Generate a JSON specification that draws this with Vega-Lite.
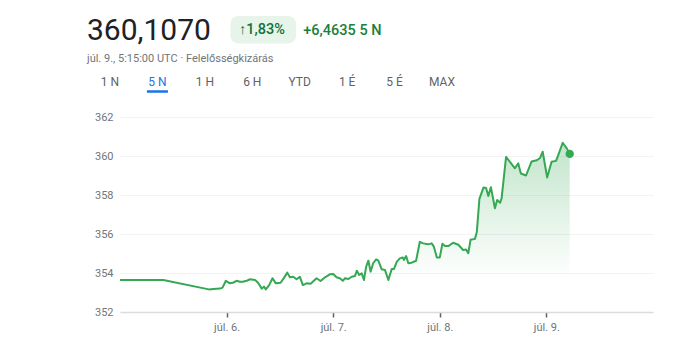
{
  "$schema": "https://vega.github.io/schema/vega-lite/v6.json",
  "width": 533,
  "height": 195,
  "autosize": {"type": "none"},
  "padding": {"left": 120, "top": 117, "right": 37, "bottom": 32},
  "background": "white",
  "config": {"view": {"stroke": null}, "font": "Roboto"},
  "datasets": {
    "prices": [
      {"t": "2024-07-05T00:00:00Z", "v": 353.64},
      {"t": "2024-07-05T09:45:00Z", "v": 353.64},
      {"t": "2024-07-05T20:00:00Z", "v": 353.16},
      {"t": "2024-07-05T21:00:00Z", "v": 353.18},
      {"t": "2024-07-05T22:30:00Z", "v": 353.2},
      {"t": "2024-07-05T23:05:00Z", "v": 353.25},
      {"t": "2024-07-05T23:50:00Z", "v": 353.6},
      {"t": "2024-07-06T00:45:00Z", "v": 353.47},
      {"t": "2024-07-06T01:25:00Z", "v": 353.5},
      {"t": "2024-07-06T02:15:00Z", "v": 353.6},
      {"t": "2024-07-06T03:00:00Z", "v": 353.55},
      {"t": "2024-07-06T03:40:00Z", "v": 353.55},
      {"t": "2024-07-06T04:30:00Z", "v": 353.6},
      {"t": "2024-07-06T05:15:00Z", "v": 353.68},
      {"t": "2024-07-06T06:25:00Z", "v": 353.64},
      {"t": "2024-07-06T07:05:00Z", "v": 353.5},
      {"t": "2024-07-06T07:55:00Z", "v": 353.2},
      {"t": "2024-07-06T08:25:00Z", "v": 353.3},
      {"t": "2024-07-06T08:50:00Z", "v": 353.16},
      {"t": "2024-07-06T09:35:00Z", "v": 353.38},
      {"t": "2024-07-06T10:20:00Z", "v": 353.73},
      {"t": "2024-07-06T11:05:00Z", "v": 353.47},
      {"t": "2024-07-06T12:10:00Z", "v": 353.5},
      {"t": "2024-07-06T12:55:00Z", "v": 353.75},
      {"t": "2024-07-06T13:40:00Z", "v": 354.02},
      {"t": "2024-07-06T14:15:00Z", "v": 353.78},
      {"t": "2024-07-06T15:00:00Z", "v": 353.81},
      {"t": "2024-07-06T15:45:00Z", "v": 353.68},
      {"t": "2024-07-06T16:30:00Z", "v": 353.8},
      {"t": "2024-07-06T17:10:00Z", "v": 353.38},
      {"t": "2024-07-06T18:00:00Z", "v": 353.47},
      {"t": "2024-07-06T18:55:00Z", "v": 353.45},
      {"t": "2024-07-06T20:15:00Z", "v": 353.73},
      {"t": "2024-07-06T21:10:00Z", "v": 353.59},
      {"t": "2024-07-06T22:10:00Z", "v": 353.78},
      {"t": "2024-07-06T23:15:00Z", "v": 353.93},
      {"t": "2024-07-07T00:00:00Z", "v": 353.95},
      {"t": "2024-07-07T00:45:00Z", "v": 353.78},
      {"t": "2024-07-07T01:30:00Z", "v": 353.73},
      {"t": "2024-07-07T02:10:00Z", "v": 353.6},
      {"t": "2024-07-07T02:40:00Z", "v": 353.73},
      {"t": "2024-07-07T03:25:00Z", "v": 353.69},
      {"t": "2024-07-07T04:10:00Z", "v": 353.81},
      {"t": "2024-07-07T04:55:00Z", "v": 353.85},
      {"t": "2024-07-07T05:20:00Z", "v": 354.12},
      {"t": "2024-07-07T05:50:00Z", "v": 353.9},
      {"t": "2024-07-07T06:25:00Z", "v": 353.98},
      {"t": "2024-07-07T06:55:00Z", "v": 353.64},
      {"t": "2024-07-07T07:25:00Z", "v": 354.32},
      {"t": "2024-07-07T07:55:00Z", "v": 354.63},
      {"t": "2024-07-07T08:25:00Z", "v": 354.07},
      {"t": "2024-07-07T09:00:00Z", "v": 354.5},
      {"t": "2024-07-07T09:40:00Z", "v": 354.7},
      {"t": "2024-07-07T10:10:00Z", "v": 354.63},
      {"t": "2024-07-07T10:55:00Z", "v": 354.19},
      {"t": "2024-07-07T11:40:00Z", "v": 354.15},
      {"t": "2024-07-07T12:25:00Z", "v": 353.64},
      {"t": "2024-07-07T13:10:00Z", "v": 354.2},
      {"t": "2024-07-07T13:40:00Z", "v": 354.2},
      {"t": "2024-07-07T14:20:00Z", "v": 354.58},
      {"t": "2024-07-07T15:00:00Z", "v": 354.75},
      {"t": "2024-07-07T15:40:00Z", "v": 354.8},
      {"t": "2024-07-07T15:55:00Z", "v": 354.67},
      {"t": "2024-07-07T16:25:00Z", "v": 354.87},
      {"t": "2024-07-07T16:55:00Z", "v": 354.5},
      {"t": "2024-07-07T17:40:00Z", "v": 354.53},
      {"t": "2024-07-07T18:40:00Z", "v": 354.63},
      {"t": "2024-07-07T19:30:00Z", "v": 355.6},
      {"t": "2024-07-07T20:15:00Z", "v": 355.52},
      {"t": "2024-07-07T21:25:00Z", "v": 355.47},
      {"t": "2024-07-07T22:10:00Z", "v": 355.52},
      {"t": "2024-07-07T22:40:00Z", "v": 355.35},
      {"t": "2024-07-07T23:20:00Z", "v": 354.8},
      {"t": "2024-07-08T00:00:00Z", "v": 354.8},
      {"t": "2024-07-08T00:35:00Z", "v": 355.5},
      {"t": "2024-07-08T01:10:00Z", "v": 355.38},
      {"t": "2024-07-08T01:55:00Z", "v": 355.38},
      {"t": "2024-07-08T03:00:00Z", "v": 355.55},
      {"t": "2024-07-08T04:10:00Z", "v": 355.45},
      {"t": "2024-07-08T05:15:00Z", "v": 355.18},
      {"t": "2024-07-08T05:55:00Z", "v": 355.2},
      {"t": "2024-07-08T06:25:00Z", "v": 355.02},
      {"t": "2024-07-08T06:55:00Z", "v": 355.7},
      {"t": "2024-07-08T07:55:00Z", "v": 355.75},
      {"t": "2024-07-08T08:20:00Z", "v": 356.1},
      {"t": "2024-07-08T08:55:00Z", "v": 357.8},
      {"t": "2024-07-08T09:50:00Z", "v": 358.38},
      {"t": "2024-07-08T10:25:00Z", "v": 358.36},
      {"t": "2024-07-08T10:55:00Z", "v": 357.95},
      {"t": "2024-07-08T11:30:00Z", "v": 358.4},
      {"t": "2024-07-08T12:25:00Z", "v": 357.32},
      {"t": "2024-07-08T12:55:00Z", "v": 357.74},
      {"t": "2024-07-08T13:35:00Z", "v": 357.6},
      {"t": "2024-07-08T13:55:00Z", "v": 357.83},
      {"t": "2024-07-08T14:55:00Z", "v": 359.95},
      {"t": "2024-07-08T16:55:00Z", "v": 359.37},
      {"t": "2024-07-08T17:40:00Z", "v": 359.62},
      {"t": "2024-07-08T18:15:00Z", "v": 359.1},
      {"t": "2024-07-08T19:25:00Z", "v": 359.0},
      {"t": "2024-07-08T20:40:00Z", "v": 359.72},
      {"t": "2024-07-08T21:50:00Z", "v": 359.78},
      {"t": "2024-07-08T22:35:00Z", "v": 359.9},
      {"t": "2024-07-08T23:10:00Z", "v": 360.22},
      {"t": "2024-07-09T00:10:00Z", "v": 358.9},
      {"t": "2024-07-09T01:10:00Z", "v": 359.7},
      {"t": "2024-07-09T02:10:00Z", "v": 359.75},
      {"t": "2024-07-09T02:40:00Z", "v": 360.05},
      {"t": "2024-07-09T03:40:00Z", "v": 360.68},
      {"t": "2024-07-09T04:35:00Z", "v": 360.39},
      {"t": "2024-07-09T05:15:00Z", "v": 360.107}
    ],
    "tabs": [
      {"tab": "1 N"}, {"tab": "5 N"}, {"tab": "1 H"}, {"tab": "6 H"},
      {"tab": "YTD"}, {"tab": "1 É"}, {"tab": "5 É"}, {"tab": "MAX"}
    ],
    "header": [
      {"price": "360,1070", "pct": "↑1,83%", "chg": "+6,4635 5 N", "ts": "júl. 9., 5:15:00 UTC · Felelősségkizárás"}
    ]
  },
  "layer": [
    {
      "data": {"name": "prices"},
      "encoding": {
        "x": {
          "field": "t", "type": "temporal",
          "scale": {"type": "utc", "domain": [{"year": 2024, "month": 7, "date": 5, "utc": true}, {"year": 2024, "month": 7, "date": 10, "utc": true}]},
          "axis": {
            "title": null,
            "values": [
              {"year": 2024, "month": 7, "date": 6, "utc": true},
              {"year": 2024, "month": 7, "date": 7, "utc": true},
              {"year": 2024, "month": 7, "date": 8, "utc": true},
              {"year": 2024, "month": 7, "date": 9, "utc": true}
            ],
            "labelExpr": "'júl. ' + utcFormat(datum.value, '%-d') + '.'",
            "grid": false,
            "domainColor": "#dadce0", "domainWidth": 1.5,
            "tickColor": "#5f6368", "tickSize": 5, "tickWidth": 1.5,
            "labelFont": "Roboto", "labelFontSize": 11, "labelColor": "#70757a", "labelPadding": 4
          }
        },
        "y": {
          "field": "v", "type": "quantitative",
          "scale": {"domain": [352, 362], "zero": false, "nice": false},
          "axis": {
            "title": null, "values": [352, 354, 356, 358, 360, 362],
            "domain": false, "ticks": false,
            "gridColor": "#f1f3f4", "gridWidth": 1,
            "labelFont": "Roboto", "labelFontSize": 11, "labelColor": "#70757a", "labelPadding": 7
          }
        }
      },
      "layer": [
        {
          "mark": {
            "type": "area",
            "color": {
              "gradient": "linear", "x1": 0, "y1": 0, "x2": 0, "y2": 1,
              "stops": [
                {"offset": 0, "color": "rgba(52,168,83,0.30)"},
                {"offset": 0.8, "color": "rgba(52,168,83,0)"}
              ]
            }
          },
          "encoding": {"y2": {"datum": 352}}
        },
        {
          "mark": {"type": "line", "color": "#34a853", "strokeWidth": 2, "strokeJoin": "round"},
          "encoding": {}
        },
        {
          "transform": [
            {"window": [{"op": "row_number", "as": "rn"}], "sort": [{"field": "t", "order": "descending"}]},
            {"filter": "datum.rn == 1"}
          ],
          "mark": {"type": "point", "filled": true, "color": "#34a853", "size": 70, "opacity": 1},
          "encoding": {}
        }
      ]
    },
    {
      "data": {"name": "tabs"},
      "encoding": {
        "x": {"field": "tab", "type": "nominal", "sort": null, "scale": {"type": "point", "range": [-10, 322], "padding": 0}, "axis": null}
      },
      "layer": [
        {
          "mark": {"type": "text", "fontSize": 12, "font": "Roboto", "baseline": "middle"},
          "encoding": {
            "y": {"value": -35},
            "text": {"field": "tab"},
            "color": {"condition": {"test": "datum.tab == '5 N'", "value": "#1a73e8"}, "value": "#5f6368"},
            "fontWeight": {"condition": {"test": "datum.tab == '5 N'", "value": 500}, "value": 400}
          }
        },
        {
          "transform": [{"filter": "datum.tab == '5 N'"}],
          "mark": {"type": "tick", "orient": "horizontal", "color": "#1a73e8", "size": 21, "thickness": 2.5, "opacity": 1},
          "encoding": {"y": {"value": -25.5}}
        }
      ]
    },
    {
      "data": {"name": "header"},
      "layer": [
        {
          "mark": {"type": "text", "font": "Roboto", "fontSize": 30, "color": "#202124", "align": "left", "baseline": "alphabetic"},
          "encoding": {"text": {"field": "price"}, "x": {"value": -33}, "y": {"value": -77}}
        },
        {
          "mark": {"type": "rect", "color": "#e6f4ea", "cornerRadius": 8},
          "encoding": {"x": {"value": 110.5}, "x2": {"value": 176}, "y": {"value": -101}, "y2": {"value": -73.5}}
        },
        {
          "mark": {"type": "text", "font": "Roboto", "fontSize": 14.5, "fontWeight": 500, "color": "#137333", "align": "left", "baseline": "alphabetic"},
          "encoding": {"text": {"field": "pct"}, "x": {"value": 119}, "y": {"value": -83}}
        },
        {
          "mark": {"type": "text", "font": "Roboto", "fontSize": 14.5, "fontWeight": 500, "color": "#188038", "align": "left", "baseline": "alphabetic"},
          "encoding": {"text": {"field": "chg"}, "x": {"value": 183.3}, "y": {"value": -82}}
        },
        {
          "mark": {"type": "text", "font": "Roboto", "fontSize": 11, "color": "#70757a", "align": "left", "baseline": "alphabetic"},
          "encoding": {"text": {"field": "ts"}, "x": {"value": -33}, "y": {"value": -55.5}}
        }
      ]
    }
  ],
  "resolve": {"scale": {"x": "independent", "y": "independent", "color": "independent"}}
}
